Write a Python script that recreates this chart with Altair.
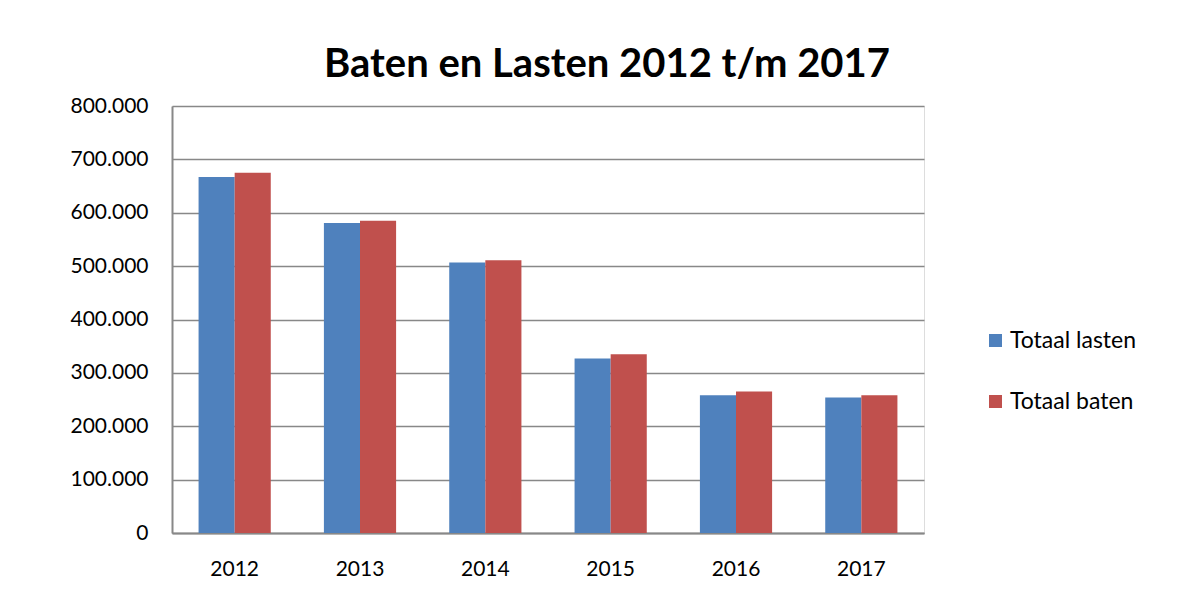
import altair as alt
import pandas as pd

years = ["2012", "2013", "2014", "2015", "2016", "2017"]
lasten = [667000, 581000, 507000, 327000, 258000, 254000]
baten = [675000, 585000, 511000, 335000, 265000, 258000]
series = ["Totaal lasten", "Totaal baten"]
colors = ["#4F81BD", "#C0504D"]
y_ticks = [0, 100000, 200000, 300000, 400000, 500000, 600000, 700000, 800000]

rows = []
for i, yr in enumerate(years):
    rows.append({"jaar": yr, "reeks": series[0], "waarde": lasten[i], "volg": 0})
    rows.append({"jaar": yr, "reeks": series[1], "waarde": baten[i], "volg": 1})
df = pd.DataFrame(rows)

FONT = "Lato"

chart = alt.Chart(df).mark_bar().encode(
    x=alt.X("jaar:N", sort=years,
            scale=alt.Scale(paddingInner=0.424, paddingOuter=0.212),
            axis=alt.Axis(title=None, labelAngle=0, ticks=False, labelPadding=25,
                          labelFontSize=21, labelFont=FONT, labelColor="#000000",
                          domainColor="#888888", domainWidth=2, grid=False)),
    xOffset=alt.XOffset("reeks:N", sort=series, scale=alt.Scale(paddingInner=0, paddingOuter=0)),
    y=alt.Y("waarde:Q",
            scale=alt.Scale(domain=[0, 800000], nice=False),
            axis=alt.Axis(title=None, values=y_ticks, ticks=False, labelPadding=24,
                          labelExpr="replace(format(datum.value, ','), ',', '.')",
                          labelFontSize=21, labelFont=FONT, labelColor="#000000",
                          domainColor="#888888", domainWidth=2,
                          gridColor="#888888", gridWidth=1.6)),
    color=alt.Color("reeks:N", sort=series,
                    scale=alt.Scale(domain=series, range=colors),
                    legend=alt.Legend(title=None, orient="none", legendX=812, legendY=223,
                                      symbolType="square", symbolSize=170, symbolStrokeWidth=0,
                                      labelFontSize=23, labelFont=FONT, labelColor="#000000",
                                      rowPadding=37, labelOffset=3, labelLimit=300)),
).properties(
    width=752,
    height=427,
    title=alt.TitleParams("Baten en Lasten 2012 t/m 2017", font=FONT, fontSize=40,
                          fontWeight="bold", color="#000000", anchor="middle", offset=10, dx=59),
    padding={"left": 61, "top": 37, "right": 40, "bottom": 5},
).configure_view(strokeWidth=0).configure(background="#ffffff")

chart.save("out.html", embed_options={"renderer": "svg", "actions": False})
